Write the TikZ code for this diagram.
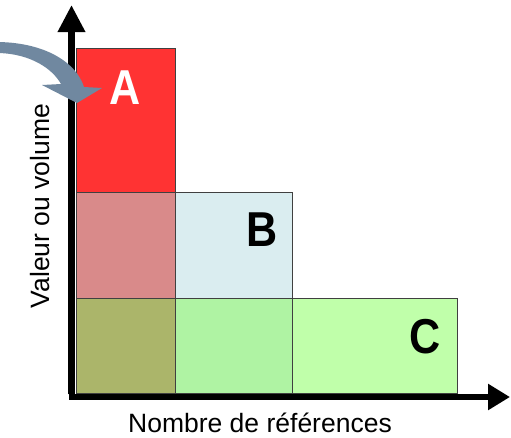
\documentclass[tikz,border=0pt]{standalone}
\usepackage{fontspec}
\setmainfont{Liberation Sans}
\usetikzlibrary{arrows.meta}
\definecolor{cA}{HTML}{FF3333}
\definecolor{cAB}{HTML}{D98A8A}
\definecolor{cB}{HTML}{DAEDF0}
\definecolor{cAC}{HTML}{ABB56A}
\definecolor{cBC}{HTML}{AFF3A3}
\definecolor{cC}{HTML}{C0FFAA}
\definecolor{cArrow}{HTML}{7088A0}
\definecolor{cEdge}{HTML}{404040}
\tikzset{
  cell/.style={draw=cEdge, line width=0.8pt},
  axis/.style={line width=6.5pt},
  biglabel/.style={font=\fontsize{49}{49}\selectfont\bfseries, inner sep=0pt, xscale=0.88},
  axlabel/.style={font=\fontsize{26.5}{26.5}\selectfont, inner sep=0pt},
}
\begin{document}
\begin{tikzpicture}[x=1pt,y=-1pt]
\useasboundingbox (0,0) rectangle (511,437);
% cells
\fill[cAC] (76,298) rectangle (175,393);
\fill[cBC] (175,298) rectangle (292,393);
\fill[cC] (292,298) rectangle (457,393);
\fill[cAB] (76,192) rectangle (175,298);
\fill[cB] (175,192) rectangle (292,298);
\fill[cA] (76,48) rectangle (175,192);
\draw[cell] (76,48) rectangle (175,192);
\draw[cell] (76,192) rectangle (292,298);
\draw[cell] (175,192) -- (175,393);
\draw[cell] (76,298) rectangle (457,393);
\draw[cell] (292,298) -- (292,393);
% axes
\coordinate (o) at (71.5,397);
\coordinate (ytip) at (71.5,5);
\coordinate (xtip) at (510,397);
\draw[axis, -{Triangle[width=26pt,length=27pt]}] ([yshift=3pt]o) -- (ytip);
\draw[axis, -{Triangle[width=25pt,length=22pt]}] ([xshift=-3pt]o) -- (xtip);
% labels
\node[biglabel, text=white] (la) at (125,88) {A};
\node[biglabel] (lb) at (262,230) {B};
\node[biglabel] (lc) at (425,337) {C};
\node[axlabel] (xl) at (260,423) {Nombre de références};
\node[axlabel, rotate=90] (yl) at (40,206) {Valeur ou volume};
% curved block arrow
\fill[cArrow] (-1,42) .. controls (45,43) and (76,62) .. (84,87)
  -- (102,88) -- (77,103) -- (42,85) -- (61,84)
  .. controls (52,68) and (30,54) .. (-1,53) -- cycle;
\end{tikzpicture}
\end{document}
